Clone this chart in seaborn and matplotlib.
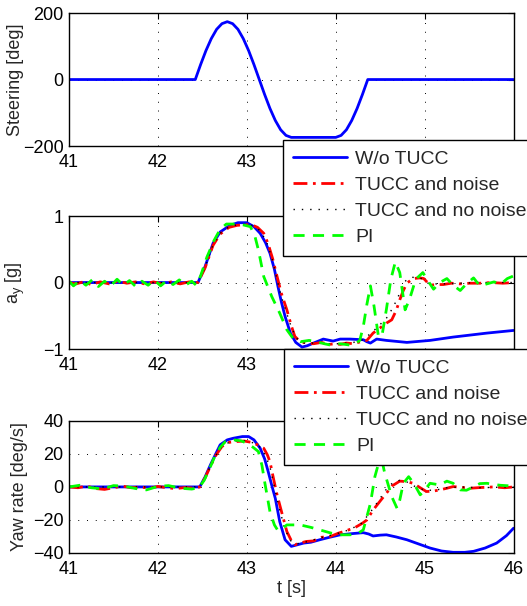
import numpy as np
import pandas as pd
import seaborn as sns
import matplotlib
matplotlib.use('Agg')
import matplotlib.pyplot as plt
from matplotlib.lines import Line2D

# ---- data ----
labels = ['W/o TUCC', 'TUCC and noise', 'TUCC and no noise', 'PI']

# steering wheel angle [deg]
steer_t = [41.0, 42.42, 42.48, 42.54, 42.60, 42.66, 42.72, 42.78, 42.84, 42.90, 42.96,
           43.02, 43.08, 43.14, 43.20, 43.26, 43.32, 43.38, 43.44, 43.50, 44.00,
           44.06, 44.12, 44.18, 44.24, 44.30, 44.36, 46.0]
steer = [0, 0, 45, 87, 123, 151, 168, 174, 168, 151, 123,
         87, 45, 0, -45, -87, -123, -151, -168, -174, -174,
         -168, -151, -123, -87, -45, 0, 0]

# lateral acceleration [g]
ay_wo_t = [41.0, 42.45, 42.53, 42.62, 42.70, 42.81, 42.90, 43.00, 43.08, 43.15, 43.21,
           43.26, 43.31, 43.35, 43.39, 43.43, 43.49, 43.55, 43.62, 43.68, 43.75, 43.86,
           43.97, 44.05, 44.16, 44.31, 44.35, 44.39, 44.46, 44.57, 44.80, 45.06, 45.32,
           45.70, 46.0]
ay_wo = [0, 0, 0.24, 0.59, 0.76, 0.86, 0.90, 0.90, 0.84, 0.74, 0.60,
         0.44, 0.20, -0.06, -0.30, -0.51, -0.76, -0.90, -0.97, -0.95, -0.91, -0.85,
         -0.88, -0.85, -0.85, -0.86, -0.89, -0.91, -0.85, -0.87, -0.90, -0.87, -0.82,
         -0.76, -0.72]

ay_noise_t = [41.0, 41.08, 41.16, 41.25, 41.35, 41.45, 41.55, 41.65, 41.75, 41.85, 41.95,
              42.05, 42.15, 42.25, 42.35, 42.45, 42.53, 42.62, 42.70, 42.80, 42.89, 42.98,
              43.05, 43.12, 43.19, 43.24, 43.29, 43.34, 43.39, 43.45, 43.50, 43.54, 43.60,
              43.68, 43.75, 43.84, 43.92, 44.00, 44.05, 44.12, 44.20, 44.28, 44.35, 44.42,
              44.50, 44.57, 44.63, 44.68, 44.72, 44.76, 44.80, 44.87, 44.95, 44.99, 45.06,
              45.13, 45.21, 45.30, 45.40, 45.51, 45.62, 45.75, 45.88, 46.0]
ay_noise = [0.0, -0.02, 0.01, -0.03, 0.01, -0.02, 0.02, -0.01, 0.01, -0.02, 0.01,
            -0.02, 0.01, -0.02, 0.01, 0.0, 0.22, 0.56, 0.73, 0.83, 0.86, 0.87,
            0.87, 0.83, 0.74, 0.58, 0.36, 0.09, -0.17, -0.41, -0.65, -0.81, -0.89,
            -0.91, -0.92, -0.90, -0.93, -0.92, -0.93, -0.91, -0.92, -0.89, -0.87, -0.76,
            -0.68, -0.61, -0.56, -0.42, -0.26, -0.12, -0.01, 0.06, 0.07, 0.06, -0.04,
            -0.03, -0.03, -0.01, -0.02, -0.01, -0.01, 0.0, -0.01, 0.0]

ay_clean_t = [41.0, 42.45, 42.53, 42.62, 42.70, 42.80, 42.90, 43.00, 43.08, 43.15, 43.22,
              43.28, 43.33, 43.38, 43.44, 43.50, 43.56, 43.63, 43.75, 43.90, 44.05, 44.20,
              44.30, 44.40, 44.50, 44.58, 44.65, 44.72, 44.78, 44.85, 44.95, 45.05, 45.20,
              45.40, 45.60, 46.0]
ay_clean = [0, 0, 0.23, 0.57, 0.74, 0.84, 0.87, 0.88, 0.85, 0.78, 0.62,
            0.38, 0.10, -0.17, -0.43, -0.67, -0.84, -0.91, -0.91, -0.92, -0.92, -0.90,
            -0.86, -0.76, -0.63, -0.52, -0.36, -0.16, 0.02, 0.08, 0.07, -0.02, -0.02,
            -0.01, 0.0, 0.0]

ay_pi_t = [41.0, 41.05, 41.12, 41.19, 41.26, 41.33, 41.40, 41.47, 41.54, 41.61, 41.68,
           41.75, 41.82, 41.89, 41.96, 42.03, 42.10, 42.17, 42.24, 42.31, 42.38, 42.43,
           42.48, 42.55, 42.63, 42.70, 42.77, 42.85, 42.95, 43.04, 43.09, 43.13, 43.19,
           43.28, 43.37, 43.45, 43.52, 43.60, 43.70, 43.79, 43.87, 43.94, 44.05, 44.16,
           44.24, 44.27, 44.31, 44.35, 44.39, 44.43, 44.48, 44.52, 44.57, 44.62, 44.67,
           44.72, 44.78, 44.83, 44.90, 44.98, 45.04, 45.10, 45.17, 45.25, 45.32, 45.40,
           45.47, 45.55, 45.62, 45.70, 45.78, 45.86, 45.93, 46.0]
ay_pi = [0.02, -0.05, 0.03, -0.04, 0.04, -0.06, 0.02, -0.05, 0.05, -0.04, 0.03,
         -0.06, 0.02, -0.04, 0.04, -0.05, 0.03, -0.03, 0.04, -0.04, 0.02, -0.04,
         0.10, 0.38, 0.63, 0.80, 0.88, 0.88, 0.87, 0.84, 0.70, 0.49, 0.09,
         -0.21, -0.46, -0.71, -0.84, -0.89, -0.87, -0.89, -0.92, -0.94, -0.92, -0.94,
         -0.90, -0.87, -0.66, -0.33, -0.05, -0.35, -0.81, -0.80, -0.40, 0.05, 0.31,
         0.15, -0.41, -0.25, 0.05, 0.15, 0.02, -0.10, 0.0, 0.06, -0.04, -0.12,
         -0.02, 0.07, -0.05, -0.02, 0.01, -0.02, 0.06, 0.10]

# yaw rate [deg/s]
yaw_wo_t = [41.0, 42.47, 42.53, 42.59, 42.65, 42.70, 42.78, 42.85, 42.95, 43.02, 43.08,
            43.15, 43.20, 43.24, 43.28, 43.32, 43.37, 43.43, 43.50, 43.57, 43.64, 43.72,
            43.82, 43.93, 44.05, 44.18, 44.31, 44.37, 44.42, 44.50, 44.57, 44.68, 44.80,
            44.93, 45.06, 45.19, 45.32, 45.45, 45.55, 45.68, 45.81, 45.92, 46.0]
yaw_wo = [0, 0, 6, 13.3, 20, 25.5, 28.5, 29.5, 30.5, 30.5, 28.5,
          23.4, 17, 9.3, 1, -6.9, -21, -32, -36, -35, -34, -33.5,
          -32, -30.5, -29, -28.3, -27.7, -28.5, -29.7, -29.2, -29, -30.3, -32,
          -34.5, -37, -38.8, -39.6, -39.6, -39, -37, -34, -29.5, -25]

yaw_noise_t = [41.0, 41.1, 41.2, 41.3, 41.4, 41.5, 41.6, 41.7, 41.8, 41.9, 42.0,
               42.1, 42.2, 42.3, 42.4, 42.47, 42.53, 42.59, 42.65, 42.72, 42.80, 42.89,
               42.97, 43.05, 43.12, 43.19, 43.23, 43.26, 43.30, 43.34, 43.40, 43.45, 43.50,
               43.54, 43.60, 43.67, 43.75, 43.84, 43.94, 44.03, 44.12, 44.22, 44.30, 44.35,
               44.42, 44.50, 44.57, 44.63, 44.72, 44.80, 44.87, 44.95, 45.02, 45.10, 45.17,
               45.25, 45.32, 45.42, 45.51, 45.62, 45.78, 45.90, 46.0]
yaw_noise = [0, -0.5, 0.5, -1, -1.5, -0.5, 0.5, -0.5, 0, -0.8, 0.3,
             -0.5, -1, -0.4, -0.7, 0, 5.5, 12.5, 19, 24.5, 27, 27.5,
             27.8, 27, 25.5, 23.4, 19.5, 15.3, 5, -4.8, -17, -27, -32.5,
             -35, -34, -33, -32.7, -30.5, -30, -28, -26.5, -24.5, -22, -20,
             -14, -8.5, -3.8, 0.5, 3.5, 3.2, 2.2, -0.5, -2.8, -2.5, -1.8,
             -0.8, 0.2, -0.3, -0.8, -0.4, 0, -0.5, 0]

yaw_clean_t = [41.0, 42.47, 42.53, 42.59, 42.65, 42.72, 42.80, 42.90, 43.00, 43.08, 43.15,
               43.21, 43.26, 43.31, 43.36, 43.42, 43.48, 43.54, 43.62, 43.72, 43.85, 44.00,
               44.15, 44.28, 44.38, 44.48, 44.56, 44.64, 44.72, 44.80, 44.90, 45.00, 45.12,
               45.25, 45.40, 45.60, 46.0]
yaw_clean = [0, 0, 5.5, 12.5, 19, 24.5, 27, 28, 28, 26.5, 24,
             19, 12, 0, -12, -24, -32, -34.5, -34, -32.5, -30.5, -28.5,
             -26, -22.5, -16, -8.5, -2, 2.5, 4, 3, 0, -2, -2,
             -0.5, 0, -0.5, 0]

yaw_pi_t = [41.0, 41.12, 41.25, 41.38, 41.50, 41.62, 41.75, 41.87, 42.00, 42.12, 42.25,
            42.38, 42.46, 42.52, 42.58, 42.64, 42.70, 42.76, 42.85, 42.93, 43.00, 43.07,
            43.13, 43.17, 43.20, 43.26, 43.31, 43.35, 43.39, 43.45, 43.60, 43.72, 43.82,
            43.95, 44.05, 44.16, 44.24, 44.31, 44.35, 44.39, 44.44, 44.48, 44.52, 44.55,
            44.63, 44.69, 44.72, 44.76, 44.82, 44.88, 44.95, 45.00, 45.06, 45.17, 45.25,
            45.32, 45.40, 45.47, 45.55, 45.62, 45.70, 45.78, 45.85, 46.0]
yaw_pi = [0, 1.0, -0.5, -1.2, 0.8, 0.5, -1.0, -1.8, 0.3, 0.8, -0.8,
          -1.3, -0.5, 4, 11, 18.5, 24, 27.5, 28.5, 28, 26.5, 24,
          21.4, 13, 3.2, -15, -23, -26.5, -25.5, -23, -23, -24.5, -26,
          -28, -29, -29, -28.5, -26, -18, -10, 6.2, 14, 16, 8.5,
          -5.9, -13, -8, 2.2, 6.2, 2, -4.8, -2, 2.2, 1.2, 3.5,
          2.2, -1.8, -2, 0, 2, 2.2, 1.5, 1, 0.5]

# ---- styling ----
sns.set_style('white')
plt.rcParams['font.family'] = ['Liberation Sans', 'DejaVu Sans']
plt.rcParams['mathtext.default'] = 'regular'
plt.rcParams['axes.edgecolor'] = 'black'
plt.rcParams['axes.linewidth'] = 1.0

colors = ['#0000ff', '#ff0000', '#000000', '#00ff00']
styles = ['-', (0, (5, 2, 1, 2)), (0, (1, 5)), (0, (4, 3))]
widths = [2.0, 2.0, 1.0, 2.0]

fig = plt.figure(figsize=(5.27, 6.06), dpi=100)
left, width = 0.131, 0.8435
ax1 = fig.add_axes([left, 0.759, width, 0.2195])
ax2 = fig.add_axes([left, 0.424, width, 0.2195])
ax3 = fig.add_axes([left, 0.0875, width, 0.218])


def style_axis(ax, yticks, ylim):
    ax.set_xlim(41, 46)
    ax.set_ylim(*ylim)
    ax.set_xticks([41, 42, 43, 44, 45, 46])
    ax.set_yticks(yticks)
    ax.tick_params(direction='in', length=4, width=0.8, labelsize=13,
                   top=True, right=True, colors='black')
    ax.tick_params(axis='x', pad=6)
    ax.tick_params(axis='y', pad=4)
    ax.grid(True, color='black', linestyle=(0, (1, 8)), linewidth=0.7)
    for sp in ax.spines.values():
        sp.set_visible(True)
        sp.set_color('black')
        sp.set_linewidth(1.0)


# steering
sns.lineplot(x=steer_t, y=steer, ax=ax1, color=colors[0], linewidth=widths[0],
             errorbar=None)
style_axis(ax1, [-200, 0, 200], (-200, 200))
ax1.set_ylabel('Steering [deg]', fontsize=13)
ax1.yaxis.set_label_coords(-0.101, 0.5)

# lateral acceleration
ay_series = [(ay_wo_t, ay_wo), (ay_noise_t, ay_noise), (ay_clean_t, ay_clean), (ay_pi_t, ay_pi)]
for (tt, vv), c, ls, lw in zip(ay_series, colors, styles, widths):
    sns.lineplot(x=tt, y=vv, ax=ax2, color=c, linestyle=ls, linewidth=lw, errorbar=None)
style_axis(ax2, [-1, 0, 1], (-1, 1))
ax2.set_ylabel('a$_y$ [g]', fontsize=13)
ax2.yaxis.set_label_coords(-0.094, 0.5)

# yaw rate
yaw_series = [(yaw_wo_t, yaw_wo), (yaw_noise_t, yaw_noise), (yaw_clean_t, yaw_clean), (yaw_pi_t, yaw_pi)]
for (tt, vv), c, ls, lw in zip(yaw_series, colors, styles, widths):
    sns.lineplot(x=tt, y=vv, ax=ax3, color=c, linestyle=ls, linewidth=lw, errorbar=None)
style_axis(ax3, [-40, -20, 0, 20, 40], (-40, 40))
ax3.set_ylabel('Yaw rate [deg/s]', fontsize=13)
ax3.yaxis.set_label_coords(-0.092, 0.5)
ax3.set_xlabel('t [s]', fontsize=13, labelpad=1)

# legends overlaying the figure (clipped at right edge like the original)
handles = [Line2D([], [], color=c, linestyle=ls, linewidth=lw)
           for c, ls, lw in zip(colors, styles, widths)]
for anchor in [(0.537, 0.769), (0.539, 0.424)]:
    leg = fig.legend(handles, labels, loc='upper left', bbox_to_anchor=anchor,
                     borderaxespad=0, fontsize=14, handlelength=2.8,
                     labelspacing=0.4, handletextpad=0.4, borderpad=0.5,
                     handleheight=0.8, fancybox=False, framealpha=1,
                     edgecolor='black')
    leg.get_frame().set_linewidth(1.0)

fig.savefig('out.png', dpi=100)
